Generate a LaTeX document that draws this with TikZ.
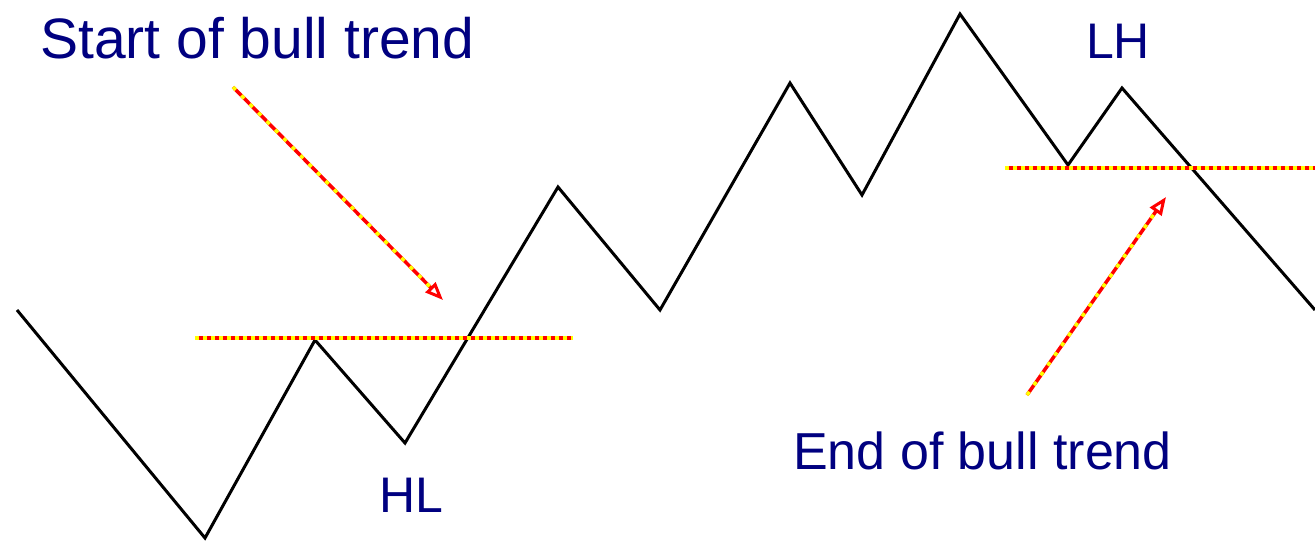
\documentclass[tikz,border=0pt]{standalone}
\usepackage{fontspec}
\setmainfont{Liberation Sans}
\usetikzlibrary{arrows.meta}
\definecolor{navy}{HTML}{000080}
\definecolor{lred}{HTML}{FF0000}
\definecolor{lyel}{HTML}{FFFF00}
\tikzset{
  price/.style={line width=3pt, black, line join=miter},
  level/.style={line width=4pt, lred},
  levelyel/.style={line width=4pt, lyel, dash pattern=on 4pt off 4pt},
  pointer/.style={line width=3.5pt, lred, -{Triangle[open,length=18pt,width=14pt,line width=3pt]}},
  pointeryel/.style={line width=3.5pt, lyel, dash pattern=on 4pt off 8pt, shorten >=18pt},
  lbl/.style={text=navy, inner sep=0pt},
  sm/.style={text=navy, inner sep=0pt, font=\fontsize{50}{56}\selectfont},
}
\begin{document}
\begin{tikzpicture}[x=1pt,y=-1pt]
\useasboundingbox[fill=white] (0,0) rectangle (1315,542);
% zigzag
\coordinate (p0) at (17,310);
\coordinate (p1) at (205,538);
\coordinate (p2) at (315,340);
\coordinate (p3) at (405,443);
\coordinate (p4) at (558,187);
\coordinate (p5) at (660,310);
\coordinate (p6) at (790,83);
\coordinate (p7) at (862,195);
\coordinate (p8) at (960,14);
\coordinate (p9) at (1068,165);
\coordinate (p10) at (1122,88);
\coordinate (p11) at (1315,310);
\draw[price] (p0)--(p1)--(p2)--(p3)--(p4)--(p5)--(p6)--(p7)--(p8)--(p9)--(p10)--(p11);
% levels
\coordinate (l1a) at (195,338);
\coordinate (l1b) at (573,338);
\coordinate (l2a) at (1005,168);
\coordinate (l2b) at (1315,168);
\draw[level] (l1a)--(l1b);
\draw[levelyel] (l1a)--(l1b);
\draw[level] (l2a)--(l2b);
\draw[levelyel] (l2a)--(l2b);
% arrows
\coordinate (a1s) at (233,87);
\coordinate (a1e) at (443,300);
\coordinate (a2s) at (1027,395);
\coordinate (a2e) at (1166,197);
\draw[pointer] (a1s)--(a1e);
\draw[pointeryel] (a1s)--(a1e);
\draw[pointer] (a2s)--(a2e);
\draw[pointeryel] (a2s)--(a2e);
% labels
\node[lbl, anchor=base west, font=\fontsize{57}{62}\selectfont] (start) at (40,58) {Start of bull trend};
\node[lbl, anchor=base west, font=\fontsize{52}{58}\selectfont] (end) at (793,469) {End of bull trend};
\node[sm, anchor=base] (hl) at (411,512) {HL};
\node[sm, anchor=base] (lh) at (1118,58) {LH};
\end{tikzpicture}
\end{document}
